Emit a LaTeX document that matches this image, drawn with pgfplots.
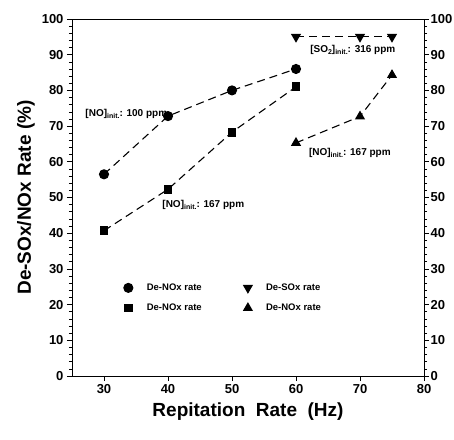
\documentclass[border=0pt]{standalone}
\usepackage{fontspec}
\setmainfont{Liberation Sans}
\usepackage{pgfplots}
\pgfplotsset{compat=1.18}
\newcommand\sub[1]{\raisebox{-0.45ex}{\fontsize{7}{7}\selectfont #1}}
\tikzset{ann/.style={font=\fontsize{10}{10}\selectfont\bfseries, inner sep=0pt}}
\begin{document}
\begin{tikzpicture}
\pgfplotsset{
  base/.style={
    scale only axis, width=352pt, height=357pt,
    xmin=25, xmax=80, ymin=0, ymax=100,
    /pgf/number format/assume math mode=true,
    tick label style={font=\fontsize{13}{13}\selectfont\bfseries},
    tick align=outside,
    ytick={0,10,...,100},
    minor y tick num=4,
    major tick length=5pt, minor tick length=3pt,
    tick style={black, line width=0.6pt},
    axis line style={line width=0.8pt},
  },
  dl/.style={black, line width=1.1pt, dash pattern=on 8pt off 5pt},
}
\begin{axis}[base,
  xtick={30,40,...,80},
  xtick pos=bottom, ytick pos=left,
  xlabel={\fontsize{19}{19}\selectfont\bfseries Repitation\ \ Rate\ \ (Hz)},
  ylabel={\fontsize{19}{19}\selectfont\bfseries De-SOx/NOx Rate (\%)},
  xlabel style={yshift=-2pt},
  ylabel style={yshift=0pt},
  legend columns=2, transpose legend,
  legend style={draw=none, fill=none, at={(axis cs:32.6,27)}, anchor=north west,
    font=\fontsize{9.5}{9.5}\selectfont\bfseries, row sep=8pt,
    /tikz/every odd column/.append style={column sep=12pt},
    /tikz/every even column/.append style={column sep=40pt}},
  legend cell align=left,
  legend image code/.code={\draw[#1,solid] plot[only marks] coordinates {(0.15cm,0cm)};},
]
\addplot[dl, mark=*, mark size=4.5pt, mark options={solid}] coordinates {(30,56.5) (40,72.8) (50,80) (60,86)};
\addlegendentry{De-NOx rate}
\addplot[dl, mark=square*, mark size=3.8pt, mark options={solid}] coordinates {(30,40.7) (40,52.3) (50,68.3) (60,81)};
\addlegendentry{De-NOx rate}
\addplot[dl, mark=triangle*, mark size=4.8pt, mark options={solid, rotate=180}] coordinates {(60,95) (70,95) (75,95)};
\addlegendentry{De-SOx rate}
\addplot[dl, mark=triangle*, mark size=4.8pt, mark options={solid}] coordinates {(60,65.3) (70,72.7) (75,84.3)};
\addlegendentry{De-NOx rate}
\node[ann, anchor=east] at (axis cs:39.9,73.4) {[NO]\sub{init.}: 100 ppm};
\node[ann, anchor=west] at (axis cs:39.1,47.9) {[NO]\sub{init.}: 167 ppm};
\node[ann, anchor=west] at (axis cs:62.2,91.4) {[SO\sub{2}]\sub{init.}: 316 ppm};
\node[ann, anchor=west] at (axis cs:62,62.5) {[NO]\sub{init.}: 167 ppm};
\end{axis}
\begin{axis}[base,
  axis x line=none, axis y line*=right,
  ytick pos=right,
  yticklabel style={xshift=-2pt},
]
\end{axis}
\pgfresetboundingbox
\path (-72pt,-63pt) rectangle (382pt,376pt);
\end{tikzpicture}
\end{document}
